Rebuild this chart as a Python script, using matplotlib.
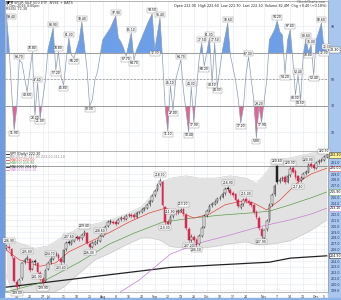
import numpy as np
import matplotlib.pyplot as plt
from matplotlib.patches import Rectangle
from matplotlib.lines import Line2D

plt.rcParams['font.family'] = 'DejaVu Sans'

# oscillator, turning points
rsi_day = [0, 1, 2, 3, 4, 5, 6, 8, 10, 11, 12, 13, 15, 16, 18, 19, 20, 21, 22, 23,
           24, 25, 26, 28, 29, 31, 32, 33, 34, 35, 36, 37, 40, 42, 43, 44, 45, 46, 48, 49,
           50, 52, 54, 56, 57, 59, 60, 61, 62, 63, 64, 65, 67, 68, 70, 71, 72, 73, 74, 75,
           76, 77, 78, 79, 80, 81, 83, 85, 86, 88, 89, 90, 91, 92, 93, 95, 96, 97, 98, 100,
           101, 103, 104, 105, 106, 107, 108, 109, 110, 111, 112, 113, 114, 115, 116, 117, 118, 119, 121, 122,
           123]
rsi_val = [99.4, 76.0, 42.0, 11.9, 28.5, 64.7, 62.5, 40.6, 70.8, 23.2, 47.4, 21.0, 49.6, 72.3, 88.9, 57.2, 70.8, 51.9, 45.8, 64.7,
           81.3, 68.5, 66.2, 79.8, 93.4, 57.2, 30.0, 34.5, 49.6, 55.7, 67.7, 79.8, 88.9, 97.9, 81.3, 78.3, 73.8, 67.7, 85.1, 64.7,
           72.3, 81.3, 91.1, 99.5, 72.3, 96.4, 64.7, 28.5, 11.1, 45.1, 27.0, 49.6, 64.7, 42.0, 10.4, 44.3, 17.9, 42.0, 64.7, 77.5,
           60.2, 70.8, 81.3, 48.1, 77.5, 44.3, 72.3, 92.6, 68.5, 49.6, 36.0, 17.2, 28.5, 53.4, 67.0, 34.5, 5.8, 29.2, 17.9, 49.6,
           79.8, 87.4, 94.2, 85.8, 83.6, 54.2, 79.8, 87.4, 64.7, 38.3, 53.4, 34.5, 68.5, 80.6, 70.8, 76.0, 53.4, 79.8, 92.6, 72.3,
           72.3]

# daily candles
op = [206.2, 206.5, 206.0, 204.5, 200.3, 199.8, 201.0, 203.9, 204.3, 204.4,
      202.6, 204.0, 203.6, 202.0, 201.0, 200.6, 202.6, 203.8, 204.4, 205.1,
      205.0, 204.4, 203.9, 206.0, 207.3, 207.0, 207.5, 208.2, 208.1, 207.9,
      208.6, 208.8, 207.0, 206.5, 207.0, 207.5, 207.5, 208.4, 209.1, 210.0,
      210.9, 210.8, 210.7, 210.5, 211.2, 211.5, 211.3, 211.9, 212.0, 211.9,
      211.6, 212.4, 212.5, 212.9, 213.2, 213.8, 214.4, 215.3, 216.2, 217.2,
      217.6, 213.3, 210.8, 210.6, 211.8, 212.5, 212.4, 212.7, 212.9, 212.0,
      209.6, 207.7, 208.2, 207.7, 206.9, 208.4, 209.9, 211.9, 212.7, 213.6,
      213.9, 214.3, 214.8, 215.1, 215.7, 216.6, 216.3, 215.8, 215.5, 214.6,
      213.3, 213.8, 214.7, 214.4, 214.1, 213.6, 212.5, 211.5, 209.6, 208.0,
      209.5, 211.0, 213.8, 215.5, 220.4, 217.8, 218.1, 218.5, 217.7, 218.8,
      220.0, 219.5, 218.6, 217.9, 218.4, 219.1, 219.4, 220.7, 220.5, 220.1,
      221.0, 221.3, 221.5, 222.0]
hi = [207.0, 206.9, 206.3, 204.7, 200.8, 201.1, 203.9, 204.6, 205.0, 204.6,
      204.1, 204.4, 203.8, 202.3, 201.3, 202.6, 204.0, 204.7, 205.4, 205.6,
      205.3, 204.7, 206.1, 207.4, 207.6, 207.7, 208.3, 208.5, 208.4, 208.8,
      209.4, 209.0, 207.3, 207.4, 207.6, 207.8, 208.6, 209.3, 210.2, 211.0,
      211.2, 211.1, 211.0, 211.4, 211.7, 211.8, 212.1, 212.2, 212.3, 212.2,
      212.6, 212.7, 213.1, 213.4, 214.0, 214.6, 215.5, 216.4, 217.4, 218.3,
      217.9, 213.5, 211.2, 211.9, 212.8, 212.8, 213.0, 213.2, 213.2, 212.2,
      209.8, 208.6, 208.5, 208.0, 208.6, 210.0, 212.1, 212.9, 213.8, 214.2,
      214.5, 215.0, 215.3, 215.9, 216.8, 216.9, 216.6, 216.1, 215.7, 214.8,
      214.0, 214.8, 215.0, 214.7, 214.4, 213.9, 212.8, 211.7, 209.9, 209.6,
      211.2, 214.0, 215.7, 217.2, 220.6, 218.5, 218.7, 218.8, 219.0, 220.3,
      220.4, 219.8, 218.9, 218.7, 219.4, 219.7, 220.9, 221.0, 220.8, 221.2,
      221.6, 221.8, 222.3, 222.6]
lo = [205.9, 205.9, 204.6, 200.3, 199.0, 199.5, 200.8, 203.5, 204.0, 202.1,
      202.4, 203.4, 201.9, 200.6, 199.9, 200.4, 202.4, 203.5, 204.1, 204.8,
      204.2, 203.4, 203.7, 205.8, 206.8, 206.7, 207.2, 207.7, 207.5, 207.6,
      208.3, 206.9, 206.0, 206.2, 206.8, 207.0, 207.3, 208.1, 208.9, 209.8,
      210.4, 210.3, 210.1, 210.3, 210.9, 210.9, 211.0, 211.6, 211.5, 211.3,
      211.4, 212.1, 212.2, 212.6, 213.0, 213.5, 214.2, 215.0, 216.0, 216.9,
      213.4, 210.3, 209.9, 210.3, 211.5, 211.9, 212.1, 212.4, 211.8, 209.4,
      207.2, 207.3, 207.2, 206.5, 206.7, 208.2, 209.7, 211.6, 212.4, 213.3,
      213.6, 214.0, 214.5, 214.8, 215.4, 216.0, 215.4, 215.0, 214.2, 213.1,
      213.0, 213.5, 214.0, 213.7, 213.4, 212.1, 211.2, 209.4, 207.9, 207.7,
      209.2, 210.8, 213.5, 215.2, 217.2, 217.4, 217.8, 217.3, 217.4, 218.5,
      219.1, 218.2, 217.4, 217.6, 218.1, 218.8, 219.2, 220.0, 219.7, 219.8,
      220.7, 221.0, 221.2, 221.7]
cl = [206.6, 206.2, 204.9, 200.6, 199.5, 200.7, 203.7, 204.2, 204.5, 202.4,
      203.8, 203.8, 202.1, 200.9, 200.4, 202.4, 203.7, 204.3, 205.0, 205.2,
      204.5, 203.8, 205.9, 207.1, 207.1, 207.4, 208.0, 208.0, 207.8, 208.5,
      209.0, 207.1, 206.4, 207.1, 207.3, 207.4, 208.3, 209.0, 209.9, 210.7,
      210.7, 210.6, 210.4, 211.1, 211.4, 211.2, 211.8, 211.9, 211.8, 211.6,
      212.3, 212.4, 212.8, 213.1, 213.7, 214.3, 215.2, 216.1, 217.1, 217.8,
      213.7, 210.7, 210.4, 211.6, 212.4, 212.3, 212.6, 212.8, 212.1, 209.7,
      207.6, 208.1, 207.6, 206.8, 208.3, 209.7, 211.8, 212.6, 213.5, 213.8,
      214.2, 214.7, 214.9, 215.6, 216.4, 216.4, 215.7, 215.4, 214.5, 213.5,
      213.7, 214.5, 214.3, 214.0, 213.7, 212.4, 211.6, 209.7, 208.3, 209.3,
      210.9, 213.7, 215.4, 216.9, 217.6, 218.0, 218.3, 217.6, 218.7, 219.9,
      219.4, 218.5, 217.8, 218.3, 219.0, 219.3, 220.6, 220.4, 220.0, 220.9,
      221.2, 221.4, 221.9, 222.3]

# overlays, read at a few points along each line
ma20_day = [0, 5, 13, 19, 24, 32, 40, 47, 55, 61, 67, 72, 78, 84, 90, 95, 100, 105, 112, 117, 123]
ma20 = [205.9, 204.2, 203.1, 203.7, 205.6, 207.3, 209.0, 210.7, 212.3, 213.1, 212.4,
        211.4, 212.1, 213.7, 214.3, 214.0, 212.8, 214.5, 217.6, 219.0, 220.0]
ma50_day = [0, 13, 28, 39, 49, 60, 71, 82, 94, 101, 109, 117, 123]
ma50 = [198.7, 200.2, 203.8, 206.8, 208.8, 210.7, 211.4, 211.9, 212.3, 212.6, 213.7, 214.9, 215.9]
ma100_day = [40, 51, 63, 74, 86, 97, 109, 117, 123]
ma100 = [197.6, 200.7, 205.2, 207.1, 208.5, 209.9, 211.1, 212.1, 213.1]
ma200_day = [0, 63, 101, 109, 123]
ma200 = [199.5, 202.9, 203.8, 204.5, 204.9]
bb_day = [0, 3, 5, 9, 11, 16, 22, 28, 34, 40, 46, 52, 55, 59, 63, 69, 74, 80, 86, 92, 96, 99, 103, 109, 117, 123]
bb_up = [208.0, 207.5, 207.1, 206.5, 206.2, 206.6, 208.3, 209.7, 210.4, 211.1, 212.1, 213.4, 214.9,
         217.4, 218.3, 218.7, 218.3, 218.3, 218.7, 218.3, 217.4, 218.8, 221.4, 221.8, 222.6, 223.0]
bb_lo = [201.6, 197.6, 197.5, 197.8, 197.9, 198.1, 199.5, 201.9, 204.2, 205.4, 206.8, 208.0, 208.0,
         207.6, 206.5, 206.2, 206.2, 206.5, 207.0, 207.3, 206.8, 206.8, 207.0, 207.5, 209.3, 211.1]
hline_price = 220.4

tick_day = [4, 9, 14, 16, 22, 27, 32, 37, 42, 47, 52, 57, 62, 67, 72, 77, 82, 87, 92, 99, 104, 109, 114, 119, 122]
tick_lab = ['13', '20', '27', 'Jul', '11', '18', '25', 'Aug', '8', '15', '22', 'Sep', '12', '19', '26',
            'Oct', '10', '17', '24', 'Nov', '7', '14', '21', 'Dec', '5']

hi_tags = [1, 8, 17, 24, 30, 36, 59, 63, 68, 85, 92, 104, 109, 116, 122]
lo_tags = [4, 12, 14, 21, 32, 61, 70, 73, 98, 112]

W, H = 341, 300
fig = plt.figure(figsize=(W / 100, H / 100), dpi=100)
fig.patch.set_facecolor('white')


def fx(px):
    return px / W


def fy(py):
    return 1 - py / H


ax1 = fig.add_axes([fx(5), fy(151), fx(323), 150 / H])
ax2 = fig.add_axes([fx(5), fy(292), fx(323), 141 / H], sharex=ax1)

# side strips
fig.add_artist(Rectangle((0, 0), fx(4), 1, transform=fig.transFigure, color='#6f9be0', zorder=0))
fig.add_artist(Rectangle((fx(328), 0), fx(13), 1, transform=fig.transFigure, color='#a9c6ef', zorder=0))
fig.add_artist(Rectangle((0, 0), 1, 2 / H, transform=fig.transFigure, color='#8fb2e8', zorder=0))

n = len(cl)
days = np.arange(n)
tag_box = dict(boxstyle='square,pad=0.15', fc='white', ec='#8a8a8a', lw=0.3)

for ax in (ax1, ax2):
    ax.set_facecolor('white')
    for s in ax.spines.values():
        s.set_color('#9a9a9a')
        s.set_linewidth(0.5)
    ax.yaxis.tick_right()
    ax.tick_params(axis='y', labelsize=2.3, length=0, pad=2, colors='#223355')
    ax.tick_params(axis='x', labelsize=2.3, length=0, pad=2.2, colors='#333333')
    ax.set_xticks(tick_day)
    ax.grid(True, color='#e3e8f0', lw=0.4)
    ax.set_axisbelow(True)

# ---- upper panel ----
rd = np.array(rsi_day)
rv = np.array(rsi_val)
ax1.fill_between(rd, rv, 70, where=rv > 70, interpolate=True, color='#6d9ee8', lw=0)
ax1.fill_between(rd, rv, 30, where=rv < 30, interpolate=True, color='#e9628f', lw=0)
ax1.axhline(70, color='#8c8c8c', lw=0.6)
ax1.axhline(30, color='#8c8c8c', lw=0.6)
ax1.axhline(50, color='#8c8c8c', lw=0.5, ls=(0, (3, 2)))
ax1.plot(rd, rv, color='#8a9bb5', lw=0.5, zorder=3)
for k in range(len(rv)):
    left = rv[k - 1] if k > 0 else rv[k] - 1
    right = rv[k + 1] if k < len(rv) - 1 else rv[k] - 1
    if k == 0:
        ax1.annotate('%.2f' % rv[k], (rd[k], rv[k]), xytext=(0.5, -0.5), textcoords='offset points',
                     fontsize=2.2, ha='left', va='top', bbox=tag_box, zorder=6)
    elif rv[k] >= left and rv[k] >= right:
        ax1.annotate('%.2f' % rv[k], (rd[k], rv[k]), xytext=(0, 1), textcoords='offset points',
                     fontsize=2.2, ha='center', va='bottom', bbox=tag_box, zorder=6)
    elif rv[k] <= left and rv[k] <= right:
        ax1.annotate('%.2f' % rv[k], (rd[k], rv[k]), xytext=(0, -1), textcoords='offset points',
                     fontsize=2.2, ha='center', va='top', bbox=tag_box, zorder=6)
ax1.set_ylim(-4, 109.2)
ax1.set_yticks([10, 30, 50, 90])
ax1.tick_params(axis='x', labelbottom=False)
ax1.annotate('%.2f' % rv[-1], (1, rv[-1]), xycoords=('axes fraction', 'data'), xytext=(1.5, 0),
             textcoords='offset points', fontsize=2.3, va='center', ha='left', annotation_clip=False,
             bbox=dict(boxstyle='square,pad=0.2', fc='white', ec='#555555', lw=0.3))

# ---- price panel ----
ax2.fill_between(bb_day, bb_lo, bb_up, color='#e2e2e2', lw=0, zorder=1)
ax2.plot(bb_day, bb_up, color='#c9c9c9', lw=0.4, zorder=1)
ax2.plot(bb_day, bb_lo, color='#c9c9c9', lw=0.4, zorder=1)
ax2.axhline(hline_price, color='#777777', lw=0.5, zorder=2)
ax2.plot(ma200_day, ma200, color='#222222', lw=0.9, zorder=3)
ax2.plot(ma100_day, ma100, color='#c77dd1', lw=0.5, zorder=3)
ax2.plot(ma50_day, ma50, color='#5a9e4b', lw=0.5, zorder=3)
ax2.plot(ma20_day, ma20, color='#e0473f', lw=0.5, zorder=3)

for i in days:
    up = i == 0 or cl[i] >= cl[i - 1]
    col = '#222222' if up else '#d42a4f'
    ax2.vlines(i, lo[i], hi[i], color=col, lw=0.4, zorder=4)
    h = max(abs(cl[i] - op[i]), 0.06)
    face = col if cl[i] < op[i] else 'white'
    ax2.add_patch(Rectangle((i - 0.33, min(op[i], cl[i])), 0.66, h, facecolor=face,
                            edgecolor=col, lw=0.35, zorder=5))

for i in hi_tags:
    ax2.annotate('%.2f' % hi[i], (i, hi[i]), xytext=(0, 1), textcoords='offset points',
                 fontsize=2.2, ha='center', va='bottom', bbox=tag_box, zorder=6)
for i in lo_tags:
    ax2.annotate('%.2f' % lo[i], (i, lo[i]), xytext=(0, -1), textcoords='offset points',
                 fontsize=2.2, ha='center', va='top', bbox=tag_box, zorder=6)

# value boxes on the right edge; tick labels they would cover are left out
boxes = [(cl[-1], '#fff59a', '#444444'), (ma20[-1], 'white', '#e0473f'),
         (ma50[-1], 'white', '#5a9e4b'), (ma100[-1], 'white', '#c77dd1'),
         (ma200[-1], 'white', '#222222')]
price_ticks = [v for v in np.arange(199, 223, 1.0) if min(abs(v - b[0]) for b in boxes) > 0.7]

ax2.set_ylim(198.66, 222.97)
ax2.set_xlim(-0.5, n - 0.5)
ax2.set_yticks(price_ticks)
ax2.set_yticklabels(['%.1f' % v for v in price_ticks])
ax2.set_xticklabels(tick_lab)

for val, fc, ec in boxes:
    ax2.annotate('%.2f' % val, (1, val), xycoords=('axes fraction', 'data'), xytext=(1.5, 0),
                 textcoords='offset points', fontsize=2.3, va='center', ha='left', annotation_clip=False,
                 bbox=dict(boxstyle='square,pad=0.2', fc=fc, ec=ec, lw=0.4), zorder=7)

# ---- header texts ----
fig.text(fx(6), fy(2.5), 'SPY', fontsize=2.8, weight='bold', va='center')
fig.text(fx(14), fy(2.5), 'SPDR S&P 500 ETF  NYSE + BATS', fontsize=2.5, va='center', color='#333333')
fig.text(fx(6), fy(5.5), '7-Dec-2016 4:00pm', fontsize=2.4, va='center', color='#333333')
fig.text(fx(6), fy(8.5), 'RSI(5) %.2f' % rv[-1], fontsize=2.4, va='center', color='#333333')
fig.text(fx(326), fy(2), '\u00a9StockCharts.com', fontsize=2.3, va='center', ha='right', color='#555555')
fig.text(fx(326), fy(5.5), 'Open %.2f  High %.2f  Low %.2f  Last %.2f  Volume 82.4M  Chg +%.2f (+%.2f%%)'
         % (op[-1], hi[-1], lo[-1], cl[-1], cl[-1] - cl[-2], (cl[-1] - cl[-2]) / cl[-2] * 100),
         fontsize=2.4, va='center', ha='right', color='#222222')

legend_rows = [('SPY (Daily) %.2f' % cl[-1], '#111111'),
               ('BB(20,2.0) %.2f %.2f %.2f' % ((bb_up[-1] + bb_lo[-1]) / 2, bb_up[-1], bb_lo[-1]), '#888888'),
               ('MA(20) %.2f' % ma20[-1], '#e0473f'),
               ('MA(50) %.2f' % ma50[-1], '#5a9e4b'),
               ('MA(200) %.2f' % ma200[-1], '#222222'),
               ('MA(100) %.2f' % ma100[-1], '#c77dd1')]
row_y = [154, 157, 160, 163, 166.5, 170]
for (txt, c), yy in zip(legend_rows, row_y):
    fig.add_artist(Line2D([fx(6), fx(9)], [fy(yy), fy(yy)], color=c, lw=0.6, transform=fig.transFigure))
    fig.text(fx(10), fy(yy), txt, fontsize=2.3, va='center', color=c)

fig.savefig('out.png', dpi=100)
